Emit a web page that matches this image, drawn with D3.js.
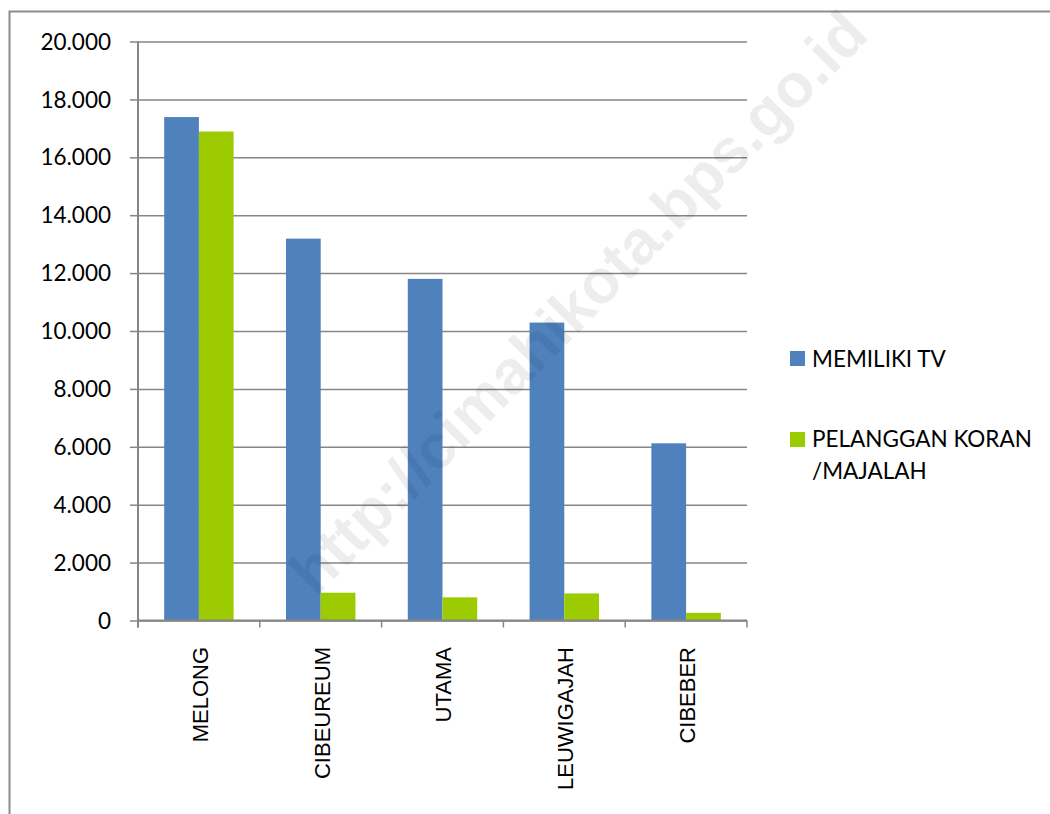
<!DOCTYPE html>
<html>
<head>
<meta charset="utf-8">
<script src="https://cdn.jsdelivr.net/npm/d3@7"></script>
<style>
  html, body { margin: 0; padding: 0; background: #fff; }
  svg { display: block; }
</style>
</head>
<body>
<svg id="chart" width="1050" height="814"></svg>
<script>
const categories = ["MELONG", "CIBEUREUM", "UTAMA", "LEUWIGAJAH", "CIBEBER"];
const seriesNames = ["MEMILIKI TV", "PELANGGAN KORAN /MAJALAH"];
const memilikiTV = [17390, 13190, 11800, 10290, 6120];
const pelangganKoran = [16890, 960, 800, 935, 265];
const yTicks = [0, 2000, 4000, 6000, 8000, 10000, 12000, 14000, 16000, 18000, 20000];
const colors = ["#4F81BD", "#9BCB00"];

(function () {
const svg = d3.select("#chart");
const mLeft = 138, mRight = 747, mTop = 41.5, mBottom = 620.5;

const locale = d3.formatLocale({ decimal: ",", thousands: ".", grouping: [3], currency: ["", ""] });
const fmt = locale.format(",.0f");

// outer border
svg.append("rect")
  .attr("x", 9.5).attr("y", 11.5)
  .attr("width", 1100).attr("height", 900)
  .attr("fill", "none").attr("stroke", "#8c8c8c").attr("stroke-width", 2);

const x = d3.scaleBand().domain(categories).range([mLeft, mRight]).paddingInner(0).paddingOuter(0);
const y = d3.scaleLinear().domain([0, 20000]).range([mBottom, mTop]);

// gridlines + y axis
const yAxis = d3.axisLeft(y).tickValues(yTicks).tickSize(8).tickPadding(19).tickFormat(fmt);
const gy = svg.append("g").attr("transform", `translate(${mLeft},0)`).call(yAxis);
gy.select(".domain").remove();
gy.selectAll(".tick line").attr("stroke", "#868686").attr("stroke-width", 1.5);
gy.selectAll(".tick").append("line")
  .attr("x1", 0).attr("x2", mRight - mLeft)
  .attr("stroke", "#868686").attr("stroke-width", 1.5);
gy.selectAll(".tick text")
  .attr("font-family", "Lato, 'Open Sans', sans-serif")
  .attr("font-size", 22.5).attr("fill", "#000").attr("dy", "0.34em");

// bars
const bw = x.bandwidth() * 0.285;
const series = [memilikiTV, pelangganKoran];
series.forEach((vals, si) => {
  svg.append("g").selectAll("rect")
    .data(categories.map((c, i) => ({ c, v: vals[i] })))
    .join("rect")
    .attr("x", d => x(d.c) + x.bandwidth() / 2 - bw + si * bw)
    .attr("y", d => y(d.v))
    .attr("width", bw)
    .attr("height", d => y(0) - y(d.v))
    .attr("fill", colors[si]);
});

// y axis line
svg.append("line").attr("x1", mLeft).attr("x2", mLeft).attr("y1", mTop).attr("y2", mBottom + 7)
  .attr("stroke", "#868686").attr("stroke-width", 2);

// x axis baseline + ticks at boundaries
svg.append("line").attr("x1", mLeft).attr("x2", mRight).attr("y1", mBottom).attr("y2", mBottom)
  .attr("stroke", "#868686").attr("stroke-width", 2);
const bounds = categories.map(c => x(c)).concat([x(categories[categories.length - 1]) + x.bandwidth()]);
svg.append("g").selectAll("line").data(bounds).join("line")
  .attr("x1", d => d).attr("x2", d => d)
  .attr("y1", mBottom).attr("y2", mBottom + 7)
  .attr("stroke", "#868686").attr("stroke-width", 1.5);

// category labels
svg.append("g").selectAll("text").data(categories).join("text")
  .attr("transform", d => `translate(${x(d) + x.bandwidth() / 2 + 1},647) rotate(-90)`)
  .attr("text-anchor", "end")
  .attr("dy", "0.36em")
  .attr("font-family", "'Liberation Sans', Arial, sans-serif")
  .attr("font-size", 22)
  .attr("fill", "#000")
  .text(d => d);

// legend
const legend = svg.append("g").attr("font-family", "Lato, 'Open Sans', sans-serif").attr("font-size", 22.5).attr("fill", "#000");
legend.append("rect").attr("x", 790).attr("y", 351).attr("width", 15).attr("height", 15).attr("fill", colors[0]);
legend.append("text").attr("x", 812).attr("y", 367).text(seriesNames[0]);
legend.append("rect").attr("x", 790).attr("y", 432).attr("width", 15).attr("height", 15).attr("fill", colors[1]);
const t2 = legend.append("text").attr("x", 812).attr("y", 447);
t2.append("tspan").attr("x", 812).text("PELANGGAN KORAN");
t2.append("tspan").attr("x", 812).attr("dy", 32).text("/MAJALAH");

// watermark
svg.append("text")
  .attr("transform", "translate(578,302) rotate(-45.3)")
  .attr("text-anchor", "middle")
  .attr("dy", "0.35em")
  .attr("font-family", "'Liberation Sans', Arial, sans-serif")
  .attr("font-weight", "bold")
  .attr("font-size", 62)
  .attr("fill", "#000")
  .attr("fill-opacity", 0.07)
  .text("http://cimahikota.bps.go.id");
})();
</script>
</body>
</html>
